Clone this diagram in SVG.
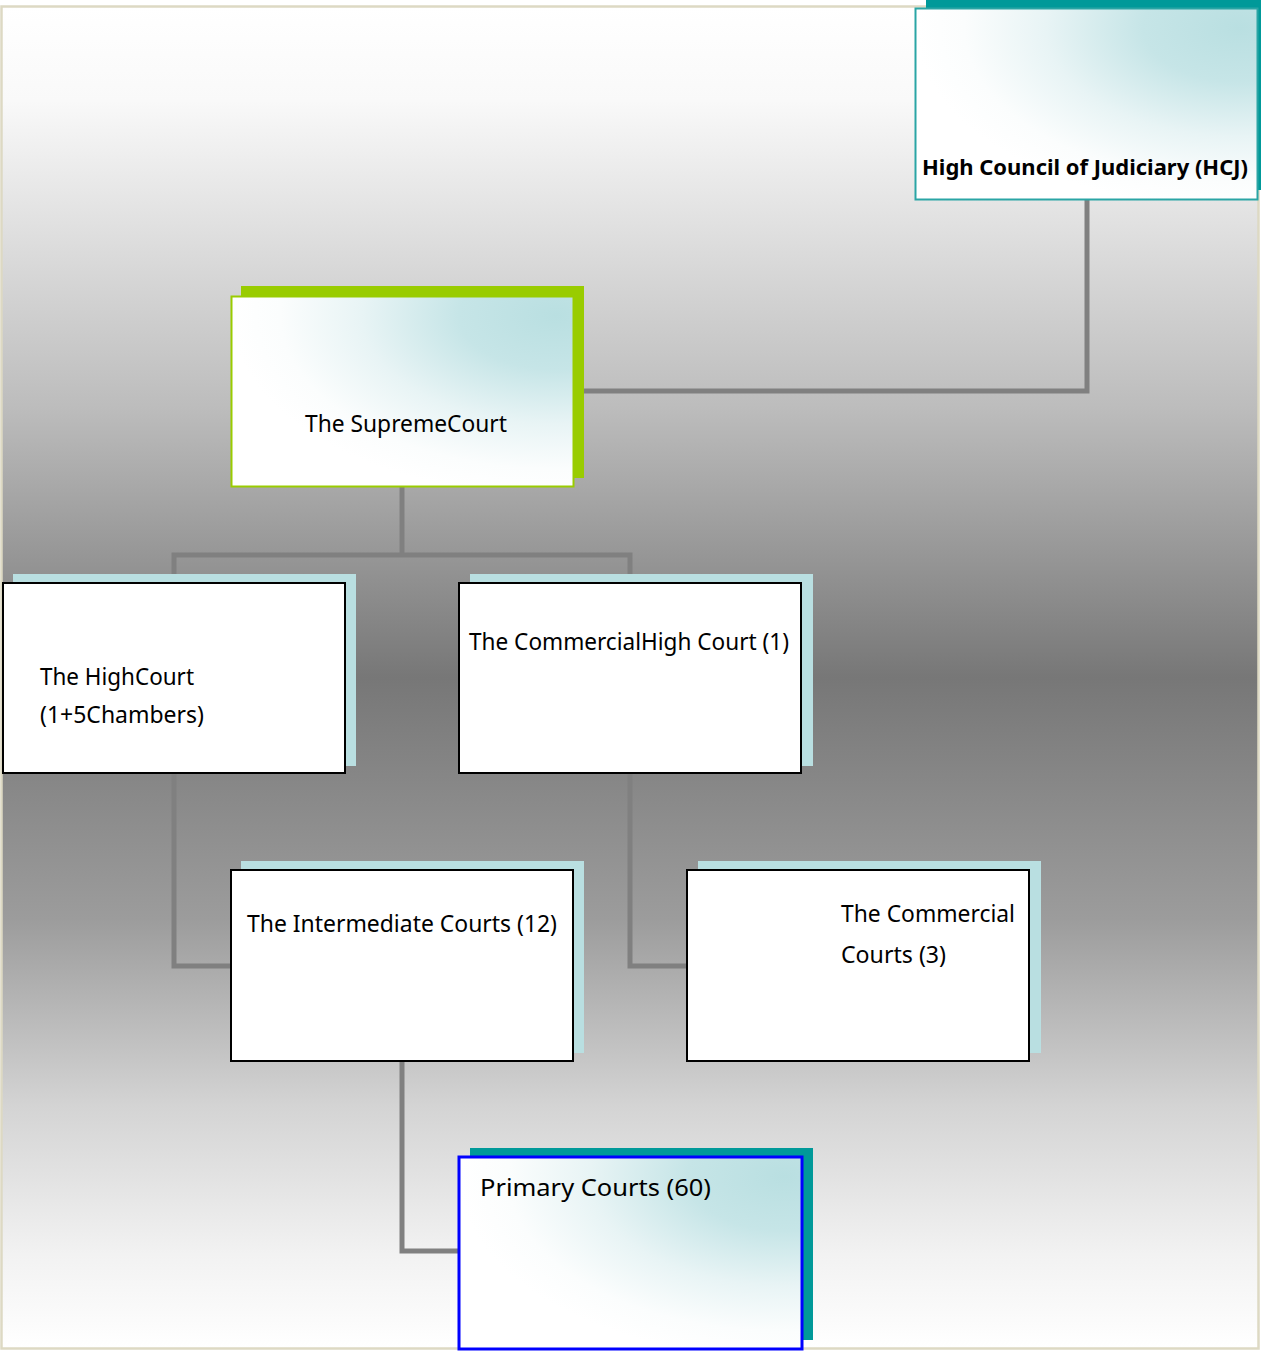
<svg xmlns="http://www.w3.org/2000/svg" width="1261" height="1351" viewBox="0 0 1261 1351">
  <defs>
    <linearGradient id="bg" x1="0" y1="0" x2="0" y2="1">
      <stop offset="0" stop-color="#ffffff"/>
      <stop offset="0.07" stop-color="#f9f9f9"/>
      <stop offset="0.3" stop-color="#bcbcbc"/>
      <stop offset="0.5" stop-color="#777777"/>
      <stop offset="0.68" stop-color="#9c9c9c"/>
      <stop offset="0.82" stop-color="#d4d4d4"/>
      <stop offset="0.93" stop-color="#f2f2f2"/>
      <stop offset="1" stop-color="#ffffff"/>
    </linearGradient>
    <radialGradient id="glow" cx="0.95" cy="0.1" r="0.95" fx="0.95" fy="0.1">
      <stop offset="0" stop-color="#b9dfe1"/>
      <stop offset="0.3" stop-color="#c6e5e7"/>
      <stop offset="0.6" stop-color="#e8f4f5"/>
      <stop offset="0.85" stop-color="#fbfdfd"/>
      <stop offset="1" stop-color="#ffffff"/>
    </radialGradient>
    <style>
      .t { font-family: "Noto Sans", "Open Sans", "Liberation Sans", sans-serif; font-size: 24px; fill: #000; }
      .b { font-weight: bold; font-size: 22px; }
      .plain { fill: #ffffff; stroke: #000000; stroke-width: 2; }
      .sh { fill: #b9dfe1; }
      .conn { fill: none; stroke: #808080; stroke-width: 5; stroke-linejoin: miter; }
    </style>
  </defs>

  <rect id="frame" x="1.5" y="6.5" width="1257" height="1342" fill="url(#bg)" stroke="#ddd9c3" stroke-width="2.5"/>

  <g id="connectors">
    <polyline class="conn" points="584,391 1087,391 1087,200"/>
    <polyline class="conn" points="402,487 402,555"/>
    <polyline class="conn" stroke="#7c7c7c" points="174,583 174,555 630,555 630,583"/>
    <polyline class="conn" points="174,773 174,966 231,966"/>
    <polyline class="conn" points="630,773 630,966 687,966"/>
    <polyline class="conn" points="402,1061 402,1251 459,1251"/>
  </g>

  <g id="hcj">
    <rect x="926" y="-4" width="335" height="194" fill="#009999"/>
    <rect x="915.5" y="8.5" width="342" height="191" fill="url(#glow)" stroke="#2aa5a5" stroke-width="2"/>
    <text class="t b" x="922" y="175" textLength="326" lengthAdjust="spacingAndGlyphs">High Council of Judiciary (HCJ)</text>
  </g>

  <g id="supreme">
    <rect x="241" y="286" width="343" height="192" fill="#99cc00"/>
    <rect x="231.5" y="296.5" width="342" height="190" fill="url(#glow)" stroke="#99cc00" stroke-width="2"/>
    <text class="t" x="305" y="432" textLength="202" lengthAdjust="spacingAndGlyphs">The SupremeCourt</text>
  </g>

  <g id="highcourt">
    <rect class="sh" x="13" y="574" width="343" height="192"/>
    <rect class="plain" x="3" y="583" width="342" height="190"/>
    <text class="t" x="40" y="685" textLength="154" lengthAdjust="spacingAndGlyphs">The HighCourt</text>
    <text class="t" x="40" y="723" textLength="164" lengthAdjust="spacingAndGlyphs">(1+5Chambers)</text>
  </g>

  <g id="commercialhigh">
    <rect class="sh" x="470" y="574" width="343" height="192"/>
    <rect class="plain" x="459" y="583" width="342" height="190"/>
    <text class="t" x="469" y="650" textLength="320" lengthAdjust="spacingAndGlyphs">The CommercialHigh Court (1)</text>
  </g>

  <g id="intermediate">
    <rect class="sh" x="241" y="861" width="343" height="192"/>
    <rect class="plain" x="231" y="870" width="342" height="191"/>
    <text class="t" x="247" y="932" textLength="310" lengthAdjust="spacingAndGlyphs">The Intermediate Courts (12)</text>
  </g>

  <g id="commercial">
    <rect class="sh" x="698" y="861" width="343" height="192"/>
    <rect class="plain" x="687" y="870" width="342" height="191"/>
    <text class="t" x="841" y="922" textLength="174" lengthAdjust="spacingAndGlyphs">The Commercial</text>
    <text class="t" x="841" y="963" textLength="105" lengthAdjust="spacingAndGlyphs">Courts (3)</text>
  </g>

  <g id="primary">
    <rect x="470" y="1148" width="343" height="192" fill="#009999"/>
    <rect x="459" y="1157" width="343" height="192" fill="url(#glow)" stroke="#0000ff" stroke-width="3"/>
    <text class="t" x="480" y="1196" font-size="26" textLength="231" lengthAdjust="spacingAndGlyphs">Primary Courts (60)</text>
  </g>
</svg>
